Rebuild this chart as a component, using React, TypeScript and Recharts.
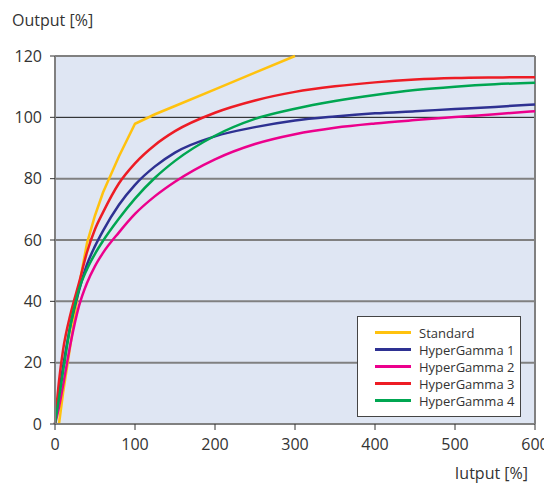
import React from "react";
import {
  LineChart,
  Line,
  XAxis,
  YAxis,
  CartesianGrid,
  ReferenceLine,
} from "recharts";

// x values (input %) shared by all curves
const inputs = [0, 5, 10, 20, 30, 40, 50, 60, 80, 100, 125, 150, 200, 250, 300, 350, 400, 450, 500, 550, 600];

const standard = [null, 0, 10, 27, 45, 59, 68, 75.5, 87.3, 97.9, 101, 103.7, 109.1, 114.6, 120, null, null, null, null, null, null];
const hyperGamma1 = [0, 10, 18.5, 33, 43.5, 52, 58, 63, 71.5, 78, 84, 88.5, 93.8, 96.8, 99, 100.3, 101.3, 102, 102.7, 103.4, 104.2];
const hyperGamma2 = [0, 5.5, 12.5, 27, 38.5, 46, 51.5, 55.8, 62.5, 68.5, 74.3, 79, 86.3, 91.3, 94.5, 96.6, 98, 99.1, 100.1, 101, 102];
const hyperGamma3 = [0, 14, 24, 36.5, 46, 56, 63.5, 69, 78.5, 85, 91, 95.5, 101.5, 105.5, 108.3, 110.1, 111.4, 112.3, 112.8, 113, 113.1];
const hyperGamma4 = [0, 8.5, 17, 33, 44, 50.5, 55.5, 59.7, 67, 73.5, 80.3, 85.8, 94, 99.5, 102.8, 105.3, 107.3, 108.9, 110, 110.8, 111.3];

const xTicks = [0, 100, 200, 300, 400, 500, 600];
const yTicks = [0, 20, 40, 60, 80, 100, 120];
const grayLines = [20, 40, 60, 80, 120];

const series = [
  { key: "standard", name: "Standard", color: "#ffc20e" },
  { key: "hg1", name: "HyperGamma 1", color: "#2e3192" },
  { key: "hg2", name: "HyperGamma 2", color: "#ec008c" },
  { key: "hg3", name: "HyperGamma 3", color: "#ed1c24" },
  { key: "hg4", name: "HyperGamma 4", color: "#00a651" },
];

const data = inputs.map((x, i) => ({
  x,
  standard: standard[i],
  hg1: hyperGamma1[i],
  hg2: hyperGamma2[i],
  hg3: hyperGamma3[i],
  hg4: hyperGamma4[i],
}));

const FONT = "'Open Sans', sans-serif";

function LegendBox() {
  return (
    <div
      style={{
        position: "absolute",
        left: 349,
        top: 308,
        width: 164,
        boxSizing: "border-box",
        border: "1px solid #444",
        background: "#fff",
        padding: "7px 0 7px 17px",
        fontSize: 13,
        color: "#333",
        whiteSpace: "nowrap",
      }}
    >
      {series.map((s) => (
        <div key={s.key} style={{ display: "flex", alignItems: "center", height: 17 }}>
          <span style={{ display: "inline-block", width: 36, height: 3, background: s.color, marginRight: 8 }} />
          {s.name}
        </div>
      ))}
    </div>
  );
}

export default function App() {
  return (
    <div style={{ position: "relative", width: 544, height: 477, fontFamily: FONT }}>
      <LineChart width={544} height={469} data={data} margin={{ top: 48, right: 17, bottom: 23, left: 0 }}>
        <CartesianGrid horizontal={false} vertical={false} fill="#dfe6f3" fillOpacity={1} stroke="none" />
        {grayLines.map((v) => (
          <ReferenceLine key={v} y={v} stroke="#808080" strokeWidth={2} />
        ))}
        <ReferenceLine y={100} stroke="#111" strokeWidth={1} />
        <ReferenceLine x={600} stroke="#808080" strokeWidth={2} />
        <XAxis
          type="number"
          dataKey="x"
          domain={[0, 600]}
          ticks={xTicks}
          height={30}
          tickSize={6}
          tickMargin={9}
          axisLine={{ stroke: "#808080", strokeWidth: 2 }}
          tickLine={{ stroke: "#333" }}
          tick={{ fill: "#333", fontSize: 16, fontFamily: FONT }}
        />
        <YAxis
          type="number"
          domain={[0, 120]}
          ticks={yTicks}
          width={47}
          tickSize={5}
          tickMargin={8}
          axisLine={{ stroke: "#808080", strokeWidth: 2 }}
          tickLine={{ stroke: "#333" }}
          tick={{ fill: "#333", fontSize: 16, fontFamily: FONT }}
        />
        {series.map((s) => (
          <Line
            key={s.key}
            dataKey={s.key}
            name={s.name}
            type={s.key === "standard" ? "linear" : "monotone"}
            stroke={s.color}
            strokeWidth={2.5}
            dot={false}
            isAnimationActive={false}
          />
        ))}
      </LineChart>
      <LegendBox />
      <div style={{ position: "absolute", left: 4, top: 1, fontSize: 16, color: "#333", lineHeight: "22px" }}>
        Output [%]
      </div>
      <div style={{ position: "absolute", right: 24, top: 454, fontSize: 16, color: "#333", lineHeight: "22px", whiteSpace: "nowrap" }}>
        Iutput [%]
      </div>
    </div>
  );
}
